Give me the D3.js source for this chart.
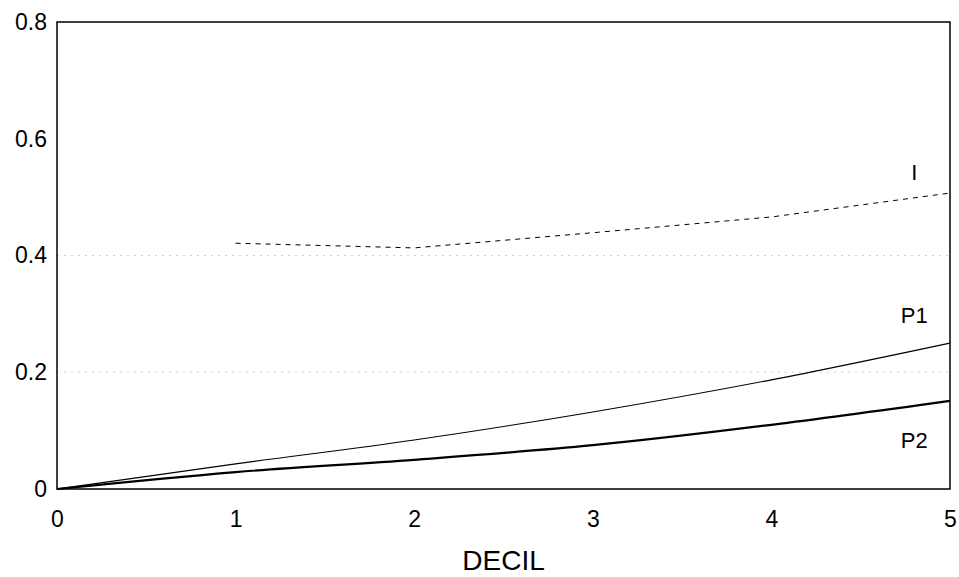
<!DOCTYPE html>
<html>
<head>
<meta charset="utf-8">
<script src="https://cdnjs.cloudflare.com/ajax/libs/d3/7.8.5/d3.min.js"></script>
<style>
    body { margin: 0; background: #fff; }
    text { font-family: "Liberation Sans", Arial, sans-serif; fill: #000; }
    .axis-label { font-size: 28px; }
    .tick-label { font-size: 23px; }
    .series-label { font-size: 22px; }
</style>
</head>
<body>
<div id="chart"></div>
<script>

// data
var deciles = [0, 1, 2, 3, 4, 5];
var p1Values = [0, 0.043, 0.084, 0.132, 0.187, 0.25];
var p2Values = [0, 0.029, 0.05, 0.075, 0.11, 0.151];
var iDeciles = [1, 2, 3, 4, 5];
var iValues = [0.421, 0.413, 0.439, 0.466, 0.507];
var xTicks = [0, 1, 2, 3, 4, 5];
var yTicks = [0, 0.2, 0.4, 0.6, 0.8];
var gridTicks = [0.2, 0.4];

var margin = {top: 22, right: 9, bottom: 88, left: 57};
var width = 959 - margin.left - margin.right,
    height = 577 - margin.top - margin.bottom;

var svg = d3.select("#chart").append("svg")
    .attr("width", 959)
    .attr("height", 577)
    .append("g")
    .attr("transform", "translate(" + margin.left + "," + margin.top + ")");

var x = d3.scaleLinear()
    .domain([0, 5])
    .range([0, width]);

var y = d3.scaleLinear()
    .domain([0, 0.8])
    .range([height, 0]);

// faint dotted grid lines from the scan
svg.selectAll(".grid")
    .data(gridTicks)
    .enter().append("line")
    .attr("class", "grid")
    .attr("x1", 0)
    .attr("x2", width)
    .attr("y1", function(d) { return y(d); })
    .attr("y2", function(d) { return y(d); })
    .attr("stroke", "#d0d0d0")
    .attr("stroke-width", 1)
    .attr("stroke-dasharray", "2,5");

// axes, no tick marks
var xAxis = d3.axisBottom(x)
    .tickValues(xTicks)
    .tickSize(0)
    .tickPadding(22)
    .tickFormat(d3.format("d"));

var yAxis = d3.axisLeft(y)
    .tickValues(yTicks)
    .tickSize(0)
    .tickPadding(10)
    .tickFormat(function(d) { return d === 0 ? "0" : d3.format(".1f")(d); });

svg.append("g")
    .attr("class", "x-axis axis")
    .attr("transform", "translate(0," + height + ")")
    .call(xAxis);

svg.append("g")
    .attr("class", "y-axis axis")
    .call(yAxis);

svg.selectAll(".axis .domain").remove();
svg.selectAll(".axis text")
    .attr("class", "tick-label")
    .attr("fill", "#000");

// frame around the plot
svg.append("rect")
    .attr("x", 0)
    .attr("y", 0)
    .attr("width", width)
    .attr("height", height)
    .attr("fill", "none")
    .attr("stroke", "#000")
    .attr("stroke-width", 1.5);

var curveLine = d3.line()
    .x(function(d) { return x(d[0]); })
    .y(function(d) { return y(d[1]); })
    .curve(d3.curveMonotoneX);

var straightLine = d3.line()
    .x(function(d) { return x(d[0]); })
    .y(function(d) { return y(d[1]); });

svg.append("path")
    .datum(d3.zip(iDeciles, iValues))
    .attr("fill", "none")
    .attr("stroke", "#000")
    .attr("stroke-width", 1)
    .attr("stroke-dasharray", "5,5")
    .attr("d", straightLine);

svg.append("path")
    .datum(d3.zip(deciles, p1Values))
    .attr("fill", "none")
    .attr("stroke", "#000")
    .attr("stroke-width", 1.1)
    .attr("d", curveLine);

svg.append("path")
    .datum(d3.zip(deciles, p2Values))
    .attr("fill", "none")
    .attr("stroke", "#000")
    .attr("stroke-width", 2.2)
    .attr("d", curveLine);

// series labels
svg.append("text")
    .attr("class", "series-label")
    .attr("x", x(4.8))
    .attr("y", y(0.53))
    .style("text-anchor", "middle")
    .text("I");

svg.append("text")
    .attr("class", "series-label")
    .attr("x", x(4.8))
    .attr("y", y(0.285))
    .style("text-anchor", "middle")
    .text("P1");

svg.append("text")
    .attr("class", "series-label")
    .attr("x", x(4.8))
    .attr("y", y(0.07))
    .style("text-anchor", "middle")
    .text("P2");

svg.append("text")
    .attr("class", "axis-label")
    .attr("x", width / 2)
    .attr("y", height + 81)
    .style("text-anchor", "middle")
    .text("DECIL");

</script>
</body>
</html>
